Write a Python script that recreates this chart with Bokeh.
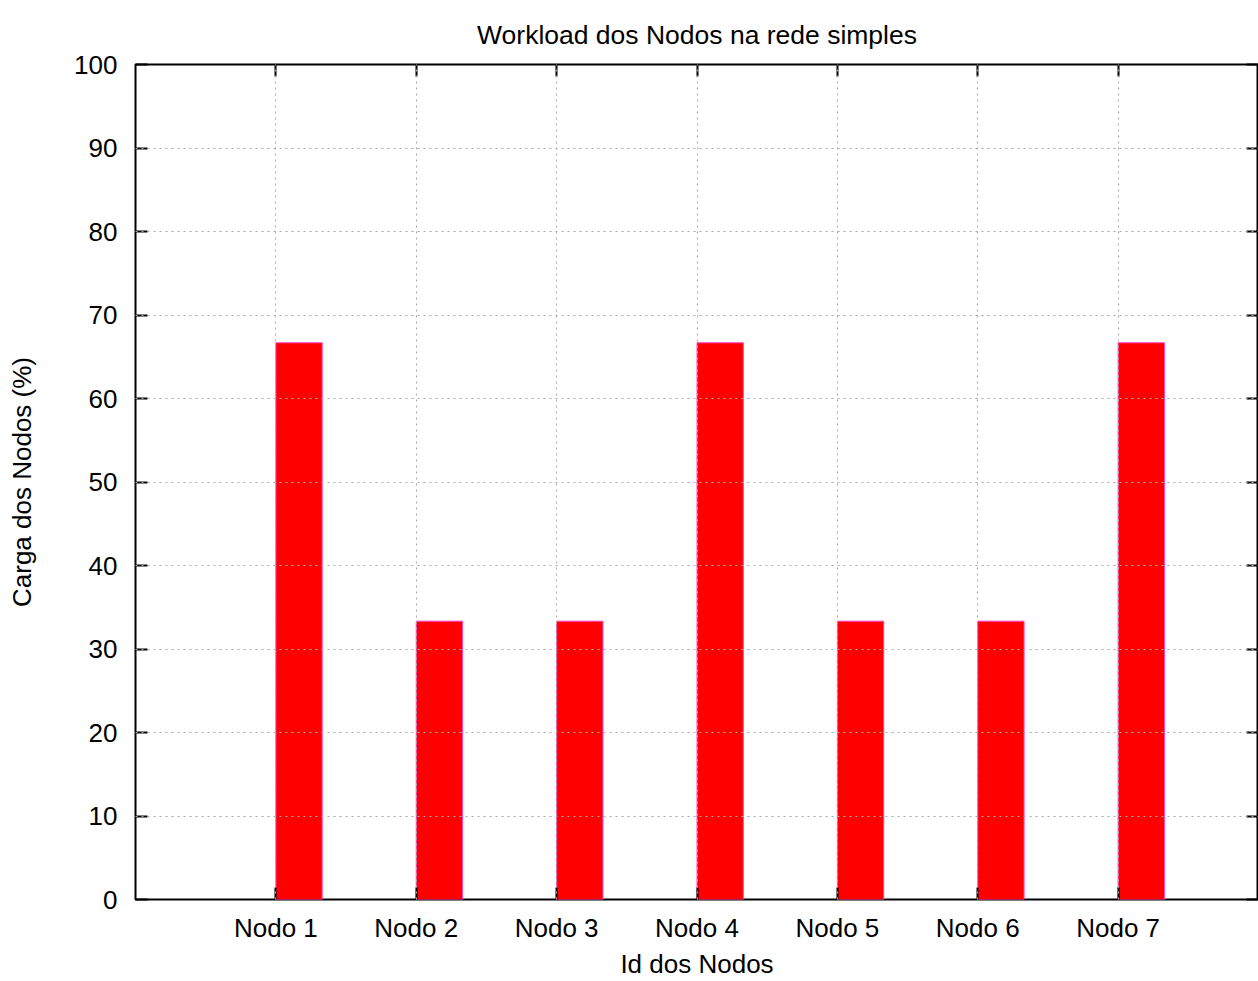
from bokeh.plotting import figure
from bokeh.models import LinearAxis, FixedTicker, Range1d, ColumnDataSource, Title
from bokeh.embed import file_html
from bokeh.resources import INLINE

# Data
categories = ["Nodo 1", "Nodo 2", "Nodo 3", "Nodo 4", "Nodo 5", "Nodo 6", "Nodo 7"]
carga = [66.67, 33.33, 33.33, 66.67, 33.33, 33.33, 66.67]
y_ticks = [0, 10, 20, 30, 40, 50, 60, 70, 80, 90, 100]
title_text = "Workload dos Nodos na rede simples"

FONT = "Liberation Sans"
FS = "26px"
BAR_W = 0.33

pos = list(range(len(categories)))
src = ColumnDataSource(dict(x=[i + BAR_W / 2 for i in pos], top=carga, name=categories))

p = figure(width=1258, height=981, output_backend="svg", toolbar_location=None,
           x_range=Range1d(-1, len(categories)), y_range=Range1d(0, 100),
           min_border_left=135, min_border_right=0, min_border_top=64, min_border_bottom=79)
p.title = None

p.vbar(x="x", top="top", width=BAR_W, source=src, fill_color="#ff0000",
       line_color="#ff40c0", line_width=1)

xt = FixedTicker(ticks=pos)
yt = FixedTicker(ticks=y_ticks)

p.xaxis.ticker = xt
p.xaxis.major_label_overrides = {i: c for i, c in zip(pos, categories)}
p.xaxis.axis_label = "Id dos Nodos"
p.yaxis.ticker = yt
p.yaxis.axis_label = "Carga dos Nodos (%)"

for ax in p.xaxis + p.yaxis:
    ax.axis_line_color = None
    ax.major_tick_in = 12
    ax.major_tick_out = 0
    ax.major_tick_line_width = 2
    ax.major_tick_line_color = "black"
    ax.minor_tick_line_color = None
    ax.major_label_text_font = FONT
    ax.major_label_text_font_size = FS
    ax.major_label_text_color = "black"
    ax.axis_label_text_font = FONT
    ax.axis_label_text_font_size = FS
    ax.axis_label_text_font_style = "normal"
    ax.axis_label_text_color = "black"

p.xaxis.major_label_standoff = 13
p.xaxis.axis_label_standoff = 3
p.yaxis.major_label_standoff = 18
p.yaxis.axis_label_standoff = 34

# mirrored ticks (top / right)
top_ax = LinearAxis(ticker=xt)
right_ax = LinearAxis(ticker=yt)
for ax in (top_ax, right_ax):
    ax.axis_line_color = None
    ax.major_tick_in = 12
    ax.major_tick_out = 0
    ax.major_tick_line_width = 2
    ax.major_tick_line_color = "black"
    ax.minor_tick_line_color = None
    ax.major_label_text_font_size = "0px"
    ax.major_label_text_color = None
    ax.major_label_standoff = 0
p.add_layout(top_ax, "above")
p.add_layout(right_ax, "right")

ttl = Title(text=title_text, text_font=FONT, text_font_size="26.5px",
            text_font_style="normal", align="center", text_color="black",
            standoff=30)
p.add_layout(ttl, "above")

p.xgrid.ticker = xt
p.ygrid.ticker = yt
for g in p.xgrid + p.ygrid:
    g.grid_line_color = "#a8a8a8"
    g.grid_line_dash = "2 4"
    g.grid_line_width = 1
    g.level = "overlay"

p.outline_line_color = "black"
p.outline_line_width = 2
p.background_fill_color = "white"
p.border_fill_color = "white"

open("out.html", "w").write(file_html(p, INLINE))
